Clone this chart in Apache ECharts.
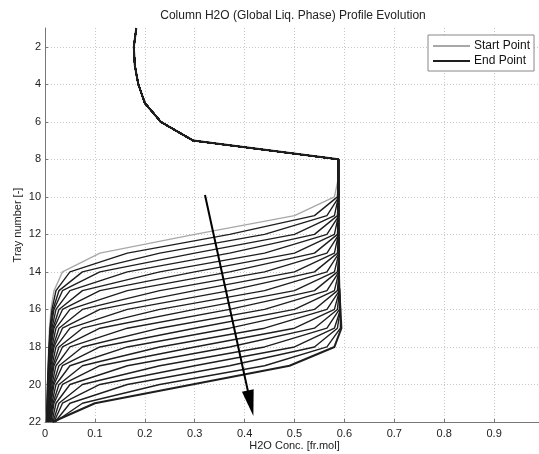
<!DOCTYPE html>
<html>
<head>
<meta charset="utf-8">
<script src="https://cdn.jsdelivr.net/npm/echarts@6/dist/echarts.min.js"></script>
<style>
html,body{margin:0;padding:0;background:#fff;}
#chart{width:539px;height:454px;}
</style>
</head>
<body>
<div id="chart"></div>
<script>
// Tray numbers (y axis)
const trays = [1,2,3,4,5,6,7,8,9,10,11,12,13,14,15,16,17,18,19,20,21,22];
// Common upper section (trays 1-8), identical for all profiles
const topSection = [0.183,0.178,0.180,0.187,0.200,0.232,0.297,0.588];
// Profiles, trays 9-22 (start -> end)
const profile00 = [0.588,0.580,0.500,0.300,0.110,0.035,0.018,0.012,0.009,0.0075,0.006,0.005,0.004,0.002];
const profile01 = [0.588,0.586,0.540,0.370,0.165,0.050,0.022,0.014,0.010,0.008,0.0065,0.005,0.004,0.003];
const profile02 = [0.588,0.589,0.565,0.440,0.230,0.075,0.028,0.016,0.011,0.0085,0.007,0.0055,0.0045,0.003];
const profile03 = [0.588,0.588,0.580,0.500,0.300,0.110,0.035,0.018,0.012,0.009,0.0075,0.006,0.005,0.004];
const profile04 = [0.588,0.588,0.586,0.540,0.370,0.165,0.050,0.022,0.014,0.010,0.008,0.0065,0.005,0.004];
const profile05 = [0.588,0.588,0.589,0.565,0.440,0.230,0.075,0.028,0.016,0.011,0.0085,0.007,0.0055,0.0045];
const profile06 = [0.588,0.588,0.588,0.580,0.500,0.300,0.110,0.035,0.018,0.012,0.009,0.0075,0.006,0.005];
const profile07 = [0.588,0.588,0.588,0.586,0.540,0.370,0.165,0.050,0.022,0.014,0.010,0.008,0.0065,0.005];
const profile08 = [0.588,0.588,0.588,0.589,0.565,0.440,0.230,0.075,0.028,0.016,0.011,0.0085,0.007,0.0055];
const profile09 = [0.588,0.588,0.588,0.588,0.580,0.500,0.300,0.110,0.035,0.018,0.012,0.009,0.0075,0.006];
const profile10 = [0.588,0.588,0.588,0.588,0.586,0.540,0.370,0.165,0.050,0.022,0.014,0.010,0.008,0.0065];
const profile11 = [0.588,0.588,0.588,0.588,0.589,0.565,0.440,0.230,0.075,0.028,0.016,0.011,0.0085,0.007];
const profile12 = [0.588,0.588,0.588,0.588,0.589,0.580,0.500,0.300,0.110,0.035,0.018,0.012,0.009,0.0075];
const profile13 = [0.588,0.588,0.588,0.588,0.589,0.586,0.540,0.370,0.165,0.050,0.022,0.014,0.010,0.008];
const profile14 = [0.588,0.588,0.588,0.588,0.589,0.589,0.565,0.440,0.230,0.075,0.028,0.016,0.011,0.0085];
const profile15 = [0.588,0.588,0.588,0.588,0.589,0.589,0.580,0.500,0.300,0.110,0.035,0.018,0.012,0.009];
const profile16 = [0.588,0.588,0.588,0.588,0.589,0.589,0.586,0.540,0.370,0.165,0.050,0.022,0.014,0.010];
const profile17 = [0.588,0.588,0.588,0.588,0.589,0.589,0.590,0.565,0.440,0.230,0.075,0.028,0.016,0.011];
const profile18 = [0.588,0.588,0.588,0.588,0.589,0.589,0.590,0.580,0.500,0.300,0.110,0.035,0.018,0.012];
const profile19 = [0.588,0.588,0.588,0.588,0.589,0.589,0.590,0.586,0.540,0.370,0.165,0.050,0.022,0.014];
const profile20 = [0.588,0.588,0.588,0.588,0.589,0.589,0.590,0.590,0.565,0.440,0.230,0.075,0.028,0.016];
const profile21 = [0.588,0.588,0.588,0.588,0.589,0.589,0.590,0.592,0.580,0.500,0.300,0.110,0.035,0.018];
const profile22 = [0.588,0.588,0.588,0.588,0.589,0.589,0.590,0.592,0.586,0.540,0.370,0.165,0.050,0.020];
const profile23 = [0.588,0.588,0.588,0.588,0.589,0.589,0.590,0.592,0.592,0.565,0.440,0.230,0.075,0.020];
const profile24 = [0.588,0.588,0.588,0.588,0.589,0.589,0.590,0.592,0.594,0.580,0.490,0.295,0.100,0.015];
const profiles = [profile00,profile01,profile02,profile03,profile04,profile05,profile06,profile07,profile08,
  profile09,profile10,profile11,profile12,profile13,profile14,profile15,profile16,profile17,profile18,
  profile19,profile20,profile21,profile22,profile23,profile24];
// Arrow annotation (x, tray)
const arrowFrom = [0.3206, 9.9];
const arrowTo = [0.412, 21.0];
const xTicks = [0,0.1,0.2,0.3,0.4,0.5,0.6,0.7,0.8,0.9];
const yTicks = [2,4,6,8,10,12,14,16,18,20,22];

function buildData(prof){
  return trays.map((t,i)=>[i<8 ? topSection[i] : prof[i-8], t]);
}

const series = profiles.map((p, k) => {
  const isStart = k === 0, isEnd = k === profiles.length - 1;
  return {
    name: isStart ? 'Start Point' : (isEnd ? 'End Point' : 'profile' + k),
    type: 'line',
    data: buildData(p),
    symbol: 'none',
    showSymbol: false,
    silent: true,
    z: isStart ? 1 : 2,
    lineStyle: {color: isStart ? '#a8a8a8' : '#1e1e1e', width: isEnd ? 2 : 1.4},
    itemStyle: {color: isStart ? '#a8a8a8' : '#1e1e1e'}
  };
});
series.push({
  name: 'arrow', type: 'line', data: [], silent: true, z: 5,
  markLine: {
    silent: true, animation: false,
    symbol: ['none', 'triangle'],
    symbolSize: 12,
    label: {show: false},
    lineStyle: {color: '#000', width: 2, type: 'solid'},
    itemStyle: {color: '#000'},
    emphasis: {disabled: true},
    data: [[{coord: arrowFrom, symbol: 'none'}, {coord: arrowTo, symbol: 'triangle', symbolSize: [12, 26]}]]
  }
});

const font = 'Liberation Sans, Arial, sans-serif';
const chart = echarts.init(document.getElementById('chart'), null, {renderer: 'canvas'});
chart.setOption({
  animation: false,
  backgroundColor: '#fff',
  textStyle: {fontFamily: font},
  title: {
    text: 'Column H2O (Global Liq. Phase) Profile Evolution',
    left: 293, top: 10, textAlign: 'center', padding: 0,
    textStyle: {fontSize: 12, fontWeight: 'normal', color: '#222', fontFamily: font}
  },
  legend: {
    data: [
      {name: 'Start Point', icon: 'rect', itemStyle: {color: '#a8a8a8'}},
      {name: 'End Point', icon: 'rect', itemStyle: {color: '#1e1e1e'}}
    ],
    orient: 'vertical', left: 428, top: 35,
    padding: [4, 4, 3, 5], itemGap: 1, itemWidth: 37, itemHeight: 2,
    backgroundColor: '#fff', borderColor: '#888', borderWidth: 1, borderRadius: 0,
    textStyle: {fontSize: 12, color: '#111', fontFamily: font, lineHeight: 14, padding: [0,0,0,-1]},
    selectedMode: false
  },
  grid: {left: 45, top: 28, width: 499, height: 394, containLabel: false, outerBoundsMode: 'none'},
  xAxis: {
    type: 'value', min: 0, max: 1, interval: 0.1,
    name: 'H2O Conc. [fr.mol]', nameLocation: 'middle', nameGap: 18,
    nameMoveOverlap: false,
    nameTextStyle: {fontSize: 11, color: '#222', fontFamily: font},
    axisLine: {show: true, lineStyle: {color: '#777', width: 1}},
    axisTick: {show: true, inside: true, length: 3, lineStyle: {color: '#777'}},
    axisLabel: {fontSize: 11, color: '#222', margin: 6, customValues: xTicks},
    splitLine: {show: true, lineStyle: {color: '#c8c8c8', type: [1, 2], width: 1}}
  },
  yAxis: {
    type: 'value', min: 1, max: 22, inverse: true,
    name: 'Tray number [-]', nameLocation: 'middle', nameGap: 22, nameRotate: 90,
    nameMoveOverlap: false,
    nameTextStyle: {fontSize: 11, color: '#222', fontFamily: font},
    axisLine: {show: true, onZero: false, lineStyle: {color: '#777', width: 1}},
    axisTick: {show: true, inside: true, length: 3, lineStyle: {color: '#777'}, customValues: yTicks},
    axisLabel: {fontSize: 11, color: '#222', margin: 4, customValues: yTicks},
    splitLine: {show: true, lineStyle: {color: '#c8c8c8', type: [1, 2], width: 1}}
  },
  series: series
});
</script>
</body>
</html>
